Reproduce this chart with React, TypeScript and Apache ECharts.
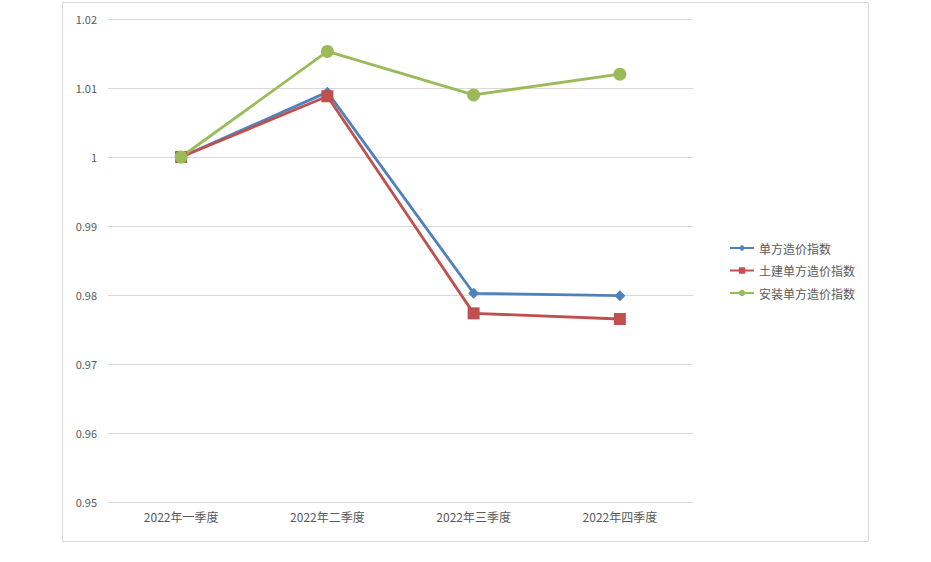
import React, { useEffect, useRef } from "react";
import * as echarts from "echarts";

const categories = ["2022年一季度", "2022年二季度", "2022年三季度", "2022年四季度"];
const seriesNames = ["单方造价指数", "土建单方造价指数", "安装单方造价指数"];
const unitIndex = [1.0, 1.0094, 0.98025, 0.9799];
const civilIndex = [1.0, 1.0088, 0.97734, 0.97652];
const installIndex = [1.0, 1.0153, 1.009, 1.012];
const yMin = 0.95;
const yMax = 1.02;
const yStep = 0.01;

export default function App() {
  const ref = useRef<HTMLDivElement>(null);
  useEffect(() => {
    if (!ref.current) return;
    const chart = echarts.init(ref.current, undefined, { renderer: "svg" });
    const font = "'Noto Sans CJK SC', 'Microsoft YaHei', sans-serif";
    chart.setOption({
      animation: false,
      backgroundColor: "#ffffff",
      textStyle: { fontFamily: font },
      graphic: [
        {
          type: "rect",
          shape: { x: 62.5, y: 2.5, width: 806, height: 539 },
          style: { fill: "none", stroke: "#d9d9d9", lineWidth: 1 },
          z: -1,
        },
      ],
      grid: { left: 108, right: 238, top: 19, bottom: 60, containLabel: false },
      legend: {
        orient: "vertical",
        left: 724,
        top: 237,
        itemWidth: 24,
        itemHeight: 8,
        itemGap: 10.5,
        textStyle: { color: "#595959", fontSize: 12, fontFamily: font },
        data: seriesNames,
      },
      xAxis: {
        type: "category",
        data: categories,
        boundaryGap: true,
        axisLine: { show: true, lineStyle: { color: "#d9d9d9", width: 1 } },
        axisTick: { show: false },
        axisLabel: { color: "#595959", fontSize: 12, margin: 8, fontFamily: font },
      },
      yAxis: {
        type: "value",
        min: yMin,
        max: yMax,
        interval: yStep,
        axisLine: { show: false },
        axisTick: { show: false },
        axisLabel: {
          color: "#595959",
          fontSize: 11,
          margin: 11,
          fontFamily: font,
          formatter: (v: number) => parseFloat(v.toFixed(2)).toString(),
        },
        splitLine: { lineStyle: { color: "#d9d9d9", width: 1 } },
      },
      series: [
        {
          name: seriesNames[0],
          type: "line",
          data: unitIndex,
          symbol: "diamond",
          symbolSize: 11,
          lineStyle: { color: "#4F81BD", width: 2.8 },
          itemStyle: { color: "#4F81BD" },
        },
        {
          name: seriesNames[1],
          type: "line",
          data: civilIndex,
          symbol: "rect",
          symbolSize: 12,
          lineStyle: { color: "#C0504D", width: 2.8 },
          itemStyle: { color: "#C0504D" },
        },
        {
          name: seriesNames[2],
          type: "line",
          data: installIndex,
          symbol: "circle",
          symbolSize: 13,
          lineStyle: { color: "#9BBB59", width: 2.8 },
          itemStyle: { color: "#9BBB59" },
        },
      ],
    });
    return () => chart.dispose();
  }, []);
  return (
    <div
      ref={ref}
      style={{ position: "absolute", left: 0, top: 0, width: 931, height: 562 }}
    />
  );
}
